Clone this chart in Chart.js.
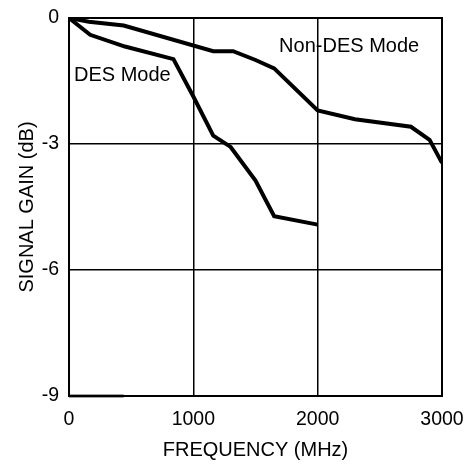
<!DOCTYPE html>
<html>
<head>
<meta charset="utf-8">
<script src="https://cdn.jsdelivr.net/npm/chart.js@4.4.0/dist/chart.umd.min.js"></script>
<style>
  html, body { margin: 0; padding: 0; background: #fff; }
  canvas { display: block; }
</style>
</head>
<body>
<canvas id="gainChart" width="466" height="466"></canvas>
<script>
// Signal gain vs frequency for the two modes
const desFreq = [0, 170, 450, 840, 1000, 1160, 1300, 1500, 1650, 2000];
const desGain = [0, -0.4, -0.68, -0.98, -1.87, -2.8, -3.07, -3.87, -4.72, -4.92];

const nonDesFreq = [0, 160, 440, 1160, 1320, 1500, 1650, 2000, 2300, 2750, 2900, 3000];
const nonDesGain = [0, -0.09, -0.18, -0.79, -0.79, -1.0, -1.2, -2.2, -2.41, -2.59, -2.9, -3.45];

// short stub along the bottom axis
const stubFreq = [0, 440];
const stubGain = [-9, -9];

const xTicks = [0, 1000, 2000, 3000];
const yTicks = [0, -3, -6, -9];

// curve labels, placed in data units
const curveLabels = [
  { text: 'DES Mode', x: 40, y: -1.38 },
  { text: 'Non-DES Mode', x: 1690, y: -0.67 }
];

const FONT = '"Liberation Sans", Arial, sans-serif';

const toPoints = (xs, ys) => xs.map((x, i) => ({ x, y: ys[i] }));

const frameAndLabels = {
  id: 'frameAndLabels',
  afterDatasetsDraw(chart) {
    const { ctx, chartArea: a, scales } = chart;
    ctx.save();
    ctx.strokeStyle = '#000';
    ctx.lineWidth = 2;
    ctx.strokeRect(a.left, a.top, a.right - a.left, a.bottom - a.top);

    ctx.fillStyle = '#000';
    ctx.font = '20px ' + FONT;
    ctx.textAlign = 'left';
    ctx.textBaseline = 'middle';
    curveLabels.forEach(l => {
      ctx.fillText(l.text, scales.x.getPixelForValue(l.x), scales.y.getPixelForValue(l.y));
    });
    ctx.restore();
  }
};

new Chart(document.getElementById('gainChart'), {
  type: 'line',
  data: {
    datasets: [
      {
        label: 'DES Mode',
        data: toPoints(desFreq, desGain),
        borderColor: '#000',
        borderWidth: 4,
        pointRadius: 0,
        tension: 0
      },
      {
        label: 'Non-DES Mode',
        data: toPoints(nonDesFreq, nonDesGain),
        borderColor: '#000',
        borderWidth: 4,
        pointRadius: 0,
        tension: 0
      },
      {
        label: 'stub',
        data: toPoints(stubFreq, stubGain),
        borderColor: '#444',
        borderWidth: 3,
        pointRadius: 0,
        clip: false
      }
    ]
  },
  options: {
    responsive: false,
    animation: false,
    layout: { padding: { left: 0, top: 18, right: 24, bottom: 0 } },
    plugins: {
      legend: { display: false },
      tooltip: { enabled: false }
    },
    scales: {
      x: {
        type: 'linear',
        min: 0,
        max: 3000,
        afterFit: s => {
          s.height = 70;
          s.paddingLeft = 0;
          s.paddingRight = 0;
        },
        afterBuildTicks: s => { s.ticks = xTicks.map(v => ({ value: v })); },
        grid: { color: '#000', lineWidth: 1.5, drawTicks: false },
        border: { display: false },
        ticks: {
          color: '#000',
          padding: 12,
          maxRotation: 0,
          font: { family: FONT, size: 19.5 },
          callback: v => String(v)
        },
        title: {
          display: true,
          text: 'FREQUENCY (MHz)',
          color: '#000',
          font: { family: FONT, size: 20 },
          padding: { top: 0, bottom: 4 }
        }
      },
      y: {
        type: 'linear',
        min: -9,
        max: 0,
        afterFit: s => {
          s.width = 69;
          s.paddingTop = 0;
          s.paddingBottom = 0;
        },
        afterBuildTicks: s => { s.ticks = yTicks.map(v => ({ value: v })); },
        grid: { color: '#000', lineWidth: 1.5, drawTicks: false },
        border: { display: false },
        ticks: {
          color: '#000',
          padding: 10,
          font: { family: FONT, size: 19.5 },
          callback: v => String(v)
        },
        title: {
          display: true,
          text: 'SIGNAL GAIN (dB)',
          color: '#000',
          font: { family: FONT, size: 20 },
          padding: { top: 15, bottom: 0 }
        }
      }
    }
  },
  plugins: [frameAndLabels]
});
</script>
</body>
</html>
